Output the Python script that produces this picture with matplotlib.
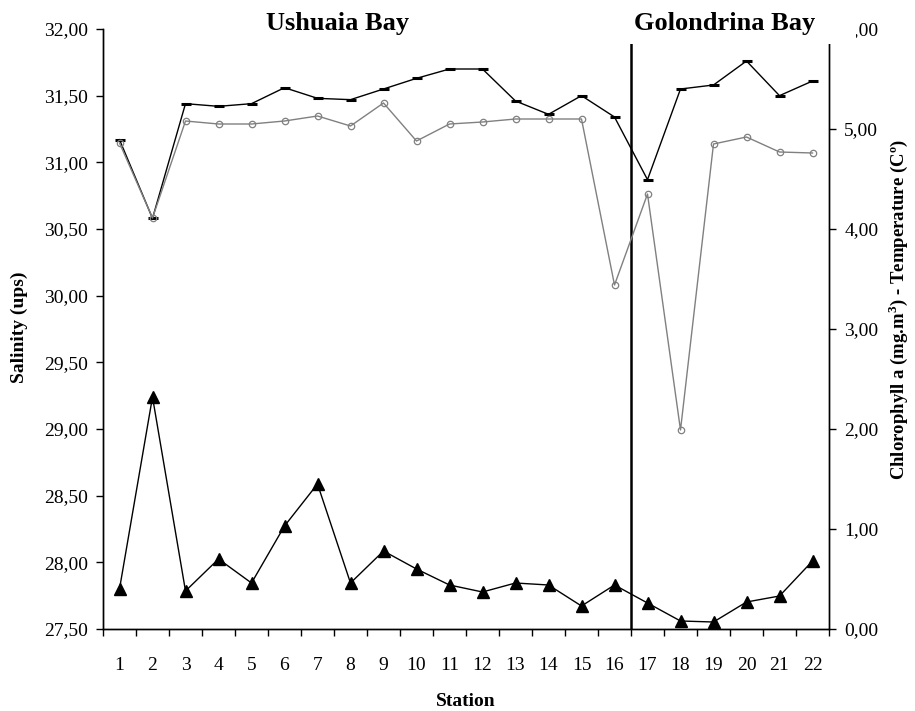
import matplotlib
matplotlib.use("Agg")
import matplotlib.pyplot as plt
from matplotlib.patches import Rectangle
from matplotlib.ticker import FuncFormatter, MultipleLocator, FixedLocator

plt.rcParams["font.family"] = "Liberation Serif"
plt.rcParams["mathtext.fontset"] = "custom"
plt.rcParams["mathtext.rm"] = "Liberation Serif"
plt.rcParams["mathtext.bf"] = "Liberation Serif:bold"

stations = list(range(1, 23))

salinity = [31.17, 30.58, 31.44, 31.42, 31.44, 31.56, 31.48, 31.47, 31.55, 31.63, 31.70,
            31.70, 31.46, 31.36, 31.50, 31.34, 30.87, 31.55, 31.58, 31.76, 31.50, 31.61]

temperature = [4.86, 4.11, 5.08, 5.05, 5.05, 5.08, 5.13, 5.03, 5.26, 4.88, 5.05,
               5.07, 5.10, 5.10, 5.10, 3.44, 4.35, 1.99, 4.85, 4.92, 4.77, 4.76]

chlorophyll = [0.40, 2.32, 0.38, 0.70, 0.46, 1.03, 1.45, 0.46, 0.78, 0.60, 0.44,
               0.37, 0.46, 0.44, 0.23, 0.44, 0.26, 0.08, 0.07, 0.27, 0.33, 0.68]

BAY_SPLIT = 16.5


def comma(v, pos):
    return f"{v:.2f}".replace(".", ",")


fig = plt.figure(figsize=(9.15, 7.11), dpi=100)
ax = fig.add_axes([103 / 915, 1 - 629 / 711, 726 / 915, 600 / 711])
ax2 = ax.twinx()

ax.plot(stations, salinity, color="black", linewidth=1.0,
        marker="_", markersize=7, markeredgewidth=2.2, zorder=3)

ax2.plot(stations, temperature, color="#808080", linewidth=1.0,
         marker="o", markersize=4.6, markerfacecolor="none",
         markeredgecolor="#808080", markeredgewidth=0.9)
ax2.plot(stations, chlorophyll, color="black", linewidth=1.0,
         marker="^", markersize=8, markerfacecolor="black")

ax.axvline(BAY_SPLIT, color="black", linewidth=1.8, zorder=4)

ax.set_xlim(0.5, 22.5)
ax.set_ylim(27.5, 32.0)
ax2.set_ylim(0, 6)

ax.yaxis.set_major_locator(MultipleLocator(0.5))
ax.yaxis.set_major_formatter(FuncFormatter(comma))
ax2.yaxis.set_major_locator(MultipleLocator(1))
ax2.yaxis.set_major_formatter(FuncFormatter(comma))

# category-style x axis: tick marks between stations, labels on stations
ax.xaxis.set_major_locator(FixedLocator([i + 0.5 for i in range(0, 23)]))
ax.xaxis.set_major_formatter(FuncFormatter(lambda v, p: ""))
ax.xaxis.set_minor_locator(FixedLocator(stations))
ax.xaxis.set_minor_formatter(FuncFormatter(lambda v, p: f"{int(round(v))}"))
ax.tick_params(axis="x", which="major", direction="out", length=5, width=1)
ax.tick_params(axis="x", which="minor", length=0, pad=20, labelsize=14)
ax.tick_params(axis="y", direction="out", length=5, width=1, pad=6, labelsize=14)
ax2.tick_params(axis="y", direction="out", length=5, width=1, pad=6, labelsize=14)

for a in (ax, ax2):
    a.spines["top"].set_visible(False)
    for s in ("left", "right", "bottom"):
        a.spines[s].set_linewidth(1.0)

ax.set_xlabel("Station", fontsize=14, fontweight="bold")
ax.xaxis.set_label_coords(0.5, -0.107)
ax.set_ylabel("Salinity (ups)", fontsize=14, fontweight="bold")
ax.yaxis.set_label_coords(-0.103, 0.503)
ax2.set_ylabel(r"Chlorophyll a (mg.m$^{\mathbf{3}}$) - Temperature (Cº)",
               fontsize=13.5, fontweight="bold")
ax2.yaxis.set_label_coords(1.078, 0.532)

# white box behind the second bay title hides the top of the right axis
fig.patches.append(Rectangle((629 / 915, 1 - 44 / 711), 227 / 915, 44 / 711,
                             transform=fig.transFigure, facecolor="white",
                             edgecolor="none", zorder=5))

fig.text(338 / 915, 1 - 30 / 711, "Ushuaia Bay", ha="center", va="baseline",
         fontsize=19, fontweight="bold", zorder=6)
fig.text(725 / 915, 1 - 30 / 711, "Golondrina Bay", ha="center", va="baseline",
         fontsize=19, fontweight="bold", zorder=6)

fig.savefig("out.png", dpi=100)
